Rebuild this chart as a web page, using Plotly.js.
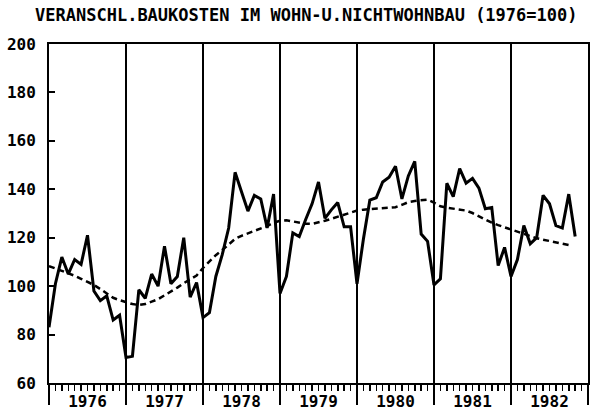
<!DOCTYPE html>
<html>
<head>
<meta charset="utf-8">
<script src="https://cdn.plot.ly/plotly-3.0.1.min.js"></script>
<style>html,body{margin:0;padding:0;background:#fff;}#chart{width:597px;height:414px;}</style>
</head>
<body>
<div id="chart"></div>
<script>
// Monthly index values (1976 = 100), Jan 1976 .. Nov 1982
const startYear = 1976;
const yearLabels = ["1976", "1977", "1978", "1979", "1980", "1981", "1982"];
const v1976 = [83, 101, 112, 105, 111, 109, 121, 98, 94, 96, 86, 88];
const v1977 = [70.5, 71, 98.5, 95, 105, 100, 116.5, 101, 104, 120, 95.5, 101.5];
const v1978 = [87, 89, 104, 113, 124, 147, 139, 131, 137.5, 136, 124, 138];
const v1979 = [97, 104, 122, 120.5, 127.5, 134, 143, 128, 131.5, 134.5, 124.5, 124.5];
const v1980 = [101, 119.5, 135.5, 136.5, 143, 145, 149.5, 136, 145.5, 151.5, 121.5, 118.5];
const v1981 = [100.5, 103, 142.5, 137, 148.5, 142.5, 144.5, 140.5, 132, 132.5, 108.5, 116];
const v1982 = [104, 111, 125, 117.5, 120, 137.5, 134, 125, 124, 138, 120.5];
// Smoothed trend (dashed), Jan 1976 .. Oct 1982
const trend = [
  108.3, 107.3, 106.3, 105.4, 104.3, 103.0, 101.7, 100.5, 98.8, 97.0, 95.2, 94.2,
  93.4, 92.6, 92.2, 92.6, 93.6, 94.6, 96.2, 97.7, 99.4, 101.2, 102.8, 104.4,
  107.5, 110.3, 112.8, 114.9, 117.2, 119.5, 120.8, 121.8, 122.7, 123.7, 124.8, 126.2,
  127.0, 127.2, 126.7, 126.2, 125.8, 125.7, 126.2, 127.0, 127.8, 128.6, 129.5, 130.4,
  131.2, 131.6, 131.8, 131.9, 132.0, 132.1, 132.6, 133.6, 134.7, 135.2, 135.6, 135.7,
  134.5, 133.0, 132.4, 132.1, 131.6, 131.2, 130.2, 128.8, 127.3, 126.2, 125.2, 124.3,
  123.5, 122.6, 121.6, 120.6, 119.8, 119.2, 118.6, 118.0, 117.5, 117.0
];
const yTicks = [60, 80, 100, 120, 140, 160, 180, 200];

const series = [].concat(v1976, v1977, v1978, v1979, v1980, v1981, v1982);
const xSeries = series.map((_, i) => startYear + i / 12);
const xTrend = trend.map((_, i) => startYear + i / 12);
const endYear = startYear + yearLabels.length;
const monthTicks = [];
for (let k = 0; k <= yearLabels.length * 12; k++) monthTicks.push(startYear + k / 12);
const yearTicks = [];
for (let y = startYear; y <= endYear; y++) yearTicks.push(y);
const yearMids = yearLabels.map((_, i) => startYear + i + 0.5);

const monoFont = {family: "DejaVu Sans Mono", size: 16, color: "#000", weight: "bold"};
const titleFont = {family: "DejaVu Sans Mono", size: 17, color: "#000", weight: "bold"};

const traces = [
  {x: xTrend, y: trend, xaxis: "x2", yaxis: "y", mode: "lines", type: "scatter",
   line: {color: "#000", width: 2.5, dash: "6px,4px"}, hoverinfo: "skip", showlegend: false},
  {x: xSeries, y: series, xaxis: "x", yaxis: "y", mode: "lines", type: "scatter",
   line: {color: "#000", width: 3}, hoverinfo: "skip", showlegend: false},
  {x: yearMids, y: yearMids.map(() => null), xaxis: "x3", yaxis: "y", mode: "lines", type: "scatter",
   hoverinfo: "skip", showlegend: false}
];

const layout = {
  width: 597, height: 414,
  margin: {l: 49, r: 9, t: 44, b: 31},
  paper_bgcolor: "#fff", plot_bgcolor: "#fff",
  showlegend: false,
  title: {text: "VERANSCHL.BAUKOSTEN IM WOHN-U.NICHTWOHNBAU (1976=100)",
          font: titleFont, x: 0.513, xref: "container", xanchor: "center",
          y: 0.978, yref: "container", yanchor: "top"},
  xaxis: {range: [startYear, endYear], tickmode: "array", tickvals: monthTicks,
          ticks: "outside", ticklen: 6, tickwidth: 1.5, tickcolor: "#000",
          showticklabels: false, showgrid: false, zeroline: false,
          showline: true, linecolor: "#000", linewidth: 2, mirror: true, fixedrange: true},
  xaxis2: {overlaying: "x", anchor: "y", side: "bottom", range: [startYear, endYear],
           tickmode: "array", tickvals: yearTicks, ticks: "outside", ticklen: 21, tickwidth: 2,
           tickcolor: "#000", showticklabels: false, showgrid: true, gridcolor: "#000",
           gridwidth: 2, zeroline: false, showline: false, fixedrange: true},
  xaxis3: {overlaying: "x", anchor: "y", side: "bottom", range: [startYear, endYear],
           tickmode: "array", tickvals: yearMids, ticktext: yearLabels, ticks: "",
           tickfont: monoFont, ticklabelstandoff: 7, showgrid: false, zeroline: false,
           showline: false, fixedrange: true},
  yaxis: {range: [60, 200], tickmode: "array", tickvals: yTicks, ticktext: yTicks.map(String),
          ticks: "inside", ticklen: 6, tickwidth: 2, tickcolor: "#000",
          tickfont: monoFont, ticklabelstandoff: 8, showgrid: false, zeroline: false,
          showline: true, linecolor: "#000", linewidth: 2, mirror: true, fixedrange: true}
};

Plotly.newPlot("chart", traces, layout, {displayModeBar: false, staticPlot: true});
</script>
</body>
</html>
